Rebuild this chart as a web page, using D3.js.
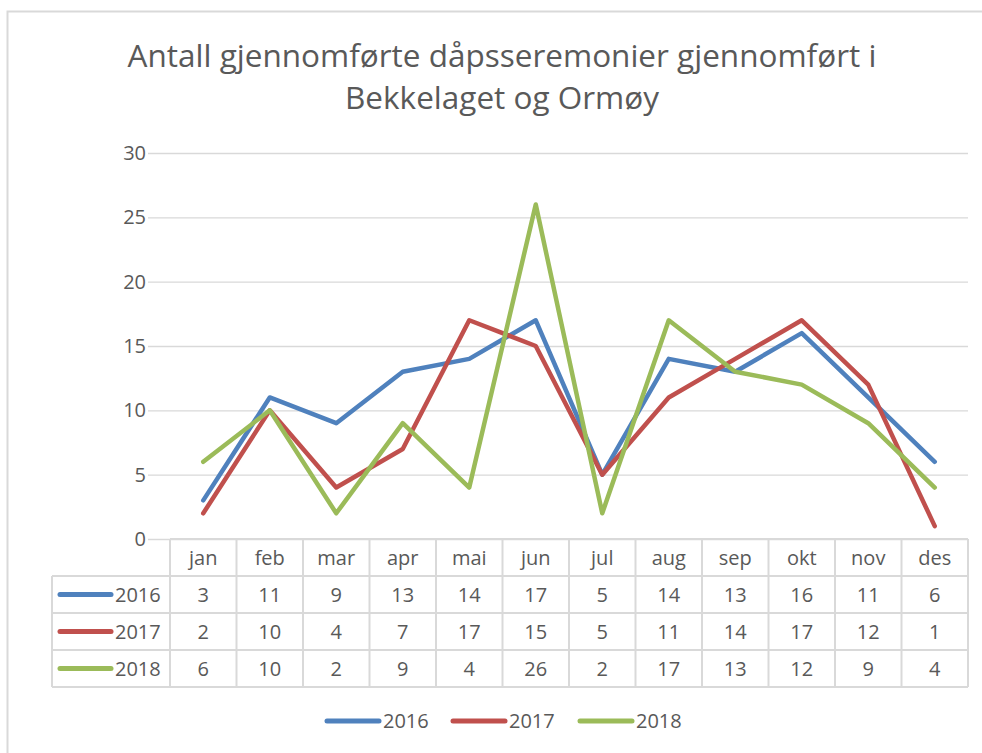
<!DOCTYPE html>
<html>
<head>
<meta charset="utf-8">
<script src="https://cdn.jsdelivr.net/npm/d3@7"></script>
<style>
  body { margin: 0; background: #fff; }
  text { font-family: "Open Sans", sans-serif; fill: #595959; }
</style>
</head>
<body>
<div id="chart"></div>
<script>
var months = ['jan', 'feb', 'mar', 'apr', 'mai', 'jun', 'jul', 'aug', 'sep', 'okt', 'nov', 'des'];
var seriesNames = ['2016', '2017', '2018'];
var v2016 = [3, 11, 9, 13, 14, 17, 5, 14, 13, 16, 11, 6];
var v2017 = [2, 10, 4, 7, 17, 15, 5, 11, 14, 17, 12, 1];
var v2018 = [6, 10, 2, 9, 4, 26, 2, 17, 13, 12, 9, 4];
var yTicks = [0, 5, 10, 15, 20, 25, 30];
var titleLines = ['Antall gjennomførte dåpsseremonier gjennomført i', 'Bekkelaget og Ormøy'];
var colors = ['#4f81bd', '#c0504d', '#9bbb59'];

var series = [v2016, v2017, v2018].map(function(vals, i) {
  return { name: seriesNames[i], values: vals, color: colors[i] };
});

var W = 982, H = 753;
var svg = d3.select('#chart').append('svg')
  .attr('width', W).attr('height', H);

// outer chart border (left + top, runs off right/bottom)
svg.append('rect')
  .attr('x', 7.5).attr('y', 11.5)
  .attr('width', 990).attr('height', 760)
  .attr('fill', 'none').attr('stroke', '#d9d9d9').attr('stroke-width', 2);

// Title
svg.append('g').selectAll('text')
  .data(titleLines).enter().append('text')
  .attr('x', 502)
  .attr('y', function(d, i) { return 67 + i * 42; })
  .attr('text-anchor', 'middle')
  .style('font-size', '31.5px')
  .text(function(d) { return d; });

var plotLeft = 170, plotRight = 968, plotTop = 153, plotBottom = 539;

var x = d3.scaleBand().domain(months).range([plotLeft, plotRight]);
var y = d3.scaleLinear().domain([0, 30]).range([plotBottom, plotTop]);

// gridlines + y labels
var yAxis = d3.axisLeft(y).tickValues(yTicks)
  .tickSize(-(plotRight - plotLeft)).tickPadding(24);
var yg = svg.append('g')
  .attr('transform', 'translate(' + plotLeft + ',0)')
  .call(yAxis);
yg.select('.domain').remove();
yg.selectAll('.tick line').attr('stroke', '#d9d9d9').attr('stroke-width', 1.3)
  .attr('x1', -22);
yg.selectAll('.tick text').style('font-size', '20px').attr('fill', '#595959')
  .attr('font-family', '"Open Sans", sans-serif');

// lines
var line = d3.line()
  .x(function(d, i) { return x(months[i]) + x.bandwidth() / 2; })
  .y(function(d) { return y(d); });

svg.append('g').selectAll('path')
  .data(series).enter().append('path')
  .attr('d', function(d) { return line(d.values); })
  .attr('fill', 'none')
  .attr('stroke', function(d) { return d.color; })
  .attr('stroke-width', 4.5)
  .attr('stroke-linejoin', 'round')
  .attr('stroke-linecap', 'round');

// data table
var rowH = 37;
var tableLeft = 52;
var table = svg.append('g');
var gridColor = '#d9d9d9';

// header row: month labels
months.forEach(function(m) {
  table.append('text')
    .attr('x', x(m) + x.bandwidth() / 2)
    .attr('y', plotBottom + rowH / 2 + 7)
    .attr('text-anchor', 'middle')
    .style('font-size', '20px')
    .text(m);
});

// value rows
series.forEach(function(s, r) {
  var ry = plotBottom + rowH * (r + 1);
  table.append('line')
    .attr('x1', tableLeft + 8).attr('x2', tableLeft + 59)
    .attr('y1', ry + rowH / 2).attr('y2', ry + rowH / 2)
    .attr('stroke', s.color).attr('stroke-width', 5)
    .attr('stroke-linecap', 'round');
  table.append('text')
    .attr('x', tableLeft + 63)
    .attr('y', ry + rowH / 2 + 7)
    .style('font-size', '20px')
    .text(s.name);
  s.values.forEach(function(v, i) {
    table.append('text')
      .attr('x', x(months[i]) + x.bandwidth() / 2)
      .attr('y', ry + rowH / 2 + 7)
      .attr('text-anchor', 'middle')
      .style('font-size', '20px')
      .text(v);
  });
});

// table grid lines
var tBottom = plotBottom + rowH * 4;
table.append('line').attr('x1', plotLeft).attr('x2', plotRight)
  .attr('y1', plotBottom).attr('y2', plotBottom);
for (var r = 1; r <= 4; r++) {
  table.append('line').attr('x1', tableLeft).attr('x2', plotRight)
    .attr('y1', plotBottom + rowH * r).attr('y2', plotBottom + rowH * r);
}
months.forEach(function(m) {
  table.append('line').attr('x1', x(m)).attr('x2', x(m))
    .attr('y1', plotBottom).attr('y2', tBottom);
});
table.append('line').attr('x1', plotRight).attr('x2', plotRight)
  .attr('y1', plotBottom).attr('y2', tBottom);
table.append('line').attr('x1', tableLeft).attr('x2', tableLeft)
  .attr('y1', plotBottom + rowH).attr('y2', tBottom);
table.selectAll('line:not([stroke])')
  .attr('stroke', gridColor).attr('stroke-width', 2);

// legend
var legendX = [327, 453, 580];
var legend = svg.append('g').selectAll('g')
  .data(series).enter().append('g')
  .attr('transform', function(d, i) { return 'translate(' + legendX[i] + ',721)'; });
legend.append('line')
  .attr('x1', 0).attr('x2', 52)
  .attr('stroke', function(d) { return d.color; })
  .attr('stroke-width', 5).attr('stroke-linecap', 'round');
legend.append('text')
  .attr('x', 56).attr('y', 7)
  .style('font-size', '20px')
  .text(function(d) { return d.name; });
</script>
</body>
</html>
